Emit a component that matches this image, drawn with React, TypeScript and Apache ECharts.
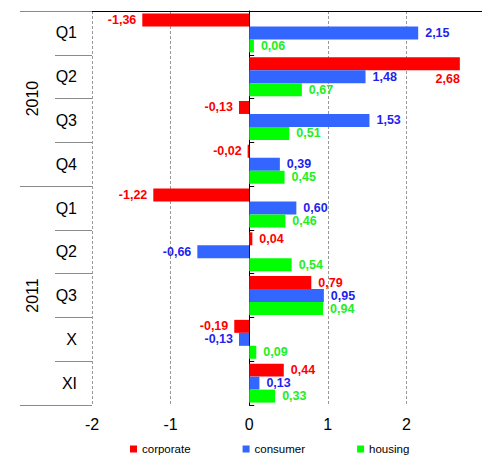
import React, { useEffect, useRef } from "react";
import * as echarts from "echarts";

const periods = ["2010 Q1", "2010 Q2", "2010 Q3", "2010 Q4", "2011 Q1", "2011 Q2", "2011 Q3", "2011 X", "2011 XI"];
const corporate = [-1.36, 2.68, -0.13, -0.02, -1.22, 0.04, 0.79, -0.19, 0.44];
const consumer = [2.15, 1.48, 1.53, 0.39, 0.6, -0.66, 0.95, -0.13, 0.13];
const housing = [0.06, 0.67, 0.51, 0.45, 0.46, 0.54, 0.94, 0.09, 0.33];
const xTicks = [-2, -1, 0, 1, 2, 3];
const seriesNames = ["corporate", "consumer", "housing"];

const FONT = "'Liberation Sans', Arial, sans-serif";
const barColors = ["#FF0000", "#3366FF", "#00FF00"];
const labelColors = ["#FF0000", "#1F1FEE", "#22EE22"];

const yearOf = (p: string) => p.split(" ")[0];
const quarterOf = (p: string) => p.split(" ")[1];

// year label centers (in category units)
const yearCenters: Record<string, string> = {};
(() => {
  const years: string[] = [];
  periods.forEach((p) => {
    const y = yearOf(p);
    if (!years.includes(y)) years.push(y);
  });
  years.forEach((y) => {
    const first = periods.findIndex((p) => yearOf(p) === y);
    const count = periods.filter((p) => yearOf(p) === y).length;
    yearCenters[String(first + count / 2)] = y;
  });
})();

const fmt = (v: number) => v.toFixed(2).replace(".", ",");

function makeData(values: number[], xMax: number) {
  return values.map((v) => {
    let label: any;
    if (v < 0) label = { position: "left", distance: 6 };
    else if (v > xMax - 0.5)
      label = { position: ["100%", "100%"], align: "right", verticalAlign: "top", distance: 0, offset: [0, 2] };
    else label = { position: "right", distance: 7 };
    return { value: v, label };
  });
}

export default function App() {
  const ref = useRef<HTMLDivElement>(null);
  useEffect(() => {
    if (!ref.current) return;
    const chart = echarts.init(ref.current, undefined, { renderer: "svg" });
    const xMin = xTicks[0];
    const xMax = xTicks[xTicks.length - 1];
    const visibleMax = 2.9;
    const allSeries = [corporate, consumer, housing];
    chart.setOption({
      animation: false,
      textStyle: { fontFamily: FONT },
      grid: { left: 92, top: 11, width: 393, height: 394, outerBoundsMode: "none", containLabel: false },
      legend: {
        data: seriesNames,
        left: 125,
        top: 438,
        icon: "rect",
        itemWidth: 7,
        itemHeight: 7,
        itemGap: 52,
        textStyle: { fontSize: 11.5, color: "#000", fontFamily: FONT },
      },
      xAxis: [
        {
          type: "value",
          min: xMin,
          max: xMax,
          interval: 1,
          axisLine: { show: false },
          axisTick: { show: false },
          axisLabel: {
            fontSize: 16,
            color: "#000",
            margin: 11,
            fontFamily: FONT,
            formatter: (v: number) => (v > visibleMax ? "" : String(v)),
          },
          splitLine: { show: true, lineStyle: { color: "#999", type: [3, 2], width: 1 } },
        },
        {
          type: "value",
          position: "top",
          min: xMin,
          max: xMax,
          axisLine: { show: true, onZero: false, lineStyle: { color: "#000", width: 1 } },
          axisTick: { show: false },
          axisLabel: { show: false },
          splitLine: { show: false },
        },
      ],
      yAxis: [
        {
          type: "category",
          data: periods,
          inverse: true,
          position: "left",
          axisLine: { show: false, onZero: false },
          axisTick: { show: true, length: 37, lineStyle: { color: "#8a8a8a", width: 1 } },
          axisLabel: {
            fontSize: 16,
            color: "#000",
            margin: 15,
            fontFamily: FONT,
            formatter: (v: string) => quarterOf(v),
          },
          splitLine: { show: false },
        },
        {
          type: "category",
          data: periods,
          inverse: true,
          axisLine: { show: true, onZero: true, onZeroAxisIndex: 0, lineStyle: { color: "#000", width: 1 } },
          axisTick: { show: true, length: 5, lineStyle: { color: "#000" } },
          axisLabel: { show: false },
          splitLine: { show: false },
        },
        {
          type: "category",
          data: periods,
          inverse: true,
          position: "left",
          axisLine: { show: false, onZero: false },
          axisTick: {
            show: true,
            length: 72,
            interval: (i: number) => i === 0 || yearOf(periods[i]) !== yearOf(periods[i - 1]),
            lineStyle: { color: "#8a8a8a", width: 1 },
          },
          axisLabel: { show: false },
          splitLine: { show: false },
        },
        {
          type: "value",
          min: 0,
          max: periods.length,
          interval: 0.5,
          inverse: true,
          position: "left",
          axisLine: { show: false, onZero: false },
          axisTick: { show: false },
          splitLine: { show: false },
          axisLabel: {
            rotate: 90,
            margin: 52,
            fontSize: 16,
            color: "#000",
            fontFamily: FONT,
            formatter: (v: number) => yearCenters[String(v)] || "",
          },
        },
      ],
      series: allSeries.map((vals, i) => ({
        name: seriesNames[i],
        type: "bar",
        xAxisIndex: 0,
        yAxisIndex: 0,
        barGap: "0%",
        barCategoryGap: "11%",
        itemStyle: { color: barColors[i] },
        label: {
          show: true,
          color: labelColors[i],
          fontWeight: "bold",
          fontSize: 12.5,
          fontFamily: FONT,
          formatter: (p: any) => fmt(p.value),
        },
        data: makeData(vals, visibleMax),
      })),
    });
    return () => chart.dispose();
  }, []);
  return <div ref={ref} style={{ position: "absolute", left: 0, top: 0, width: 482, height: 457 }} />;
}
